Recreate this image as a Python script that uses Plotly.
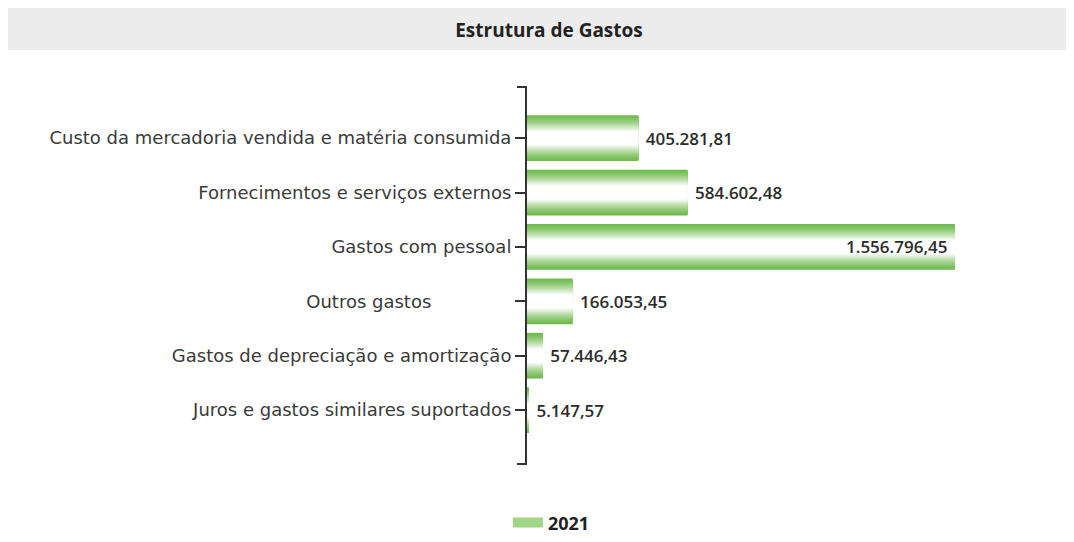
import plotly.graph_objects as go

categorias = [
    "Custo da mercadoria vendida e matéria consumida",
    "Fornecimentos e serviços externos",
    "Gastos com pessoal",
    "Outros gastos" + "\u00a0" * 14,
    "Gastos de depreciação e amortização",
    "Juros e gastos similares suportados",
]
valores_2021 = [405281.81, 584602.48, 1556796.45, 166053.45, 57446.43, 5147.57]
rotulos = ["405.281,81", "584.602,48", "1.556.796,45", "166.053,45", "57.446,43", "5.147,57"]
posicao_rotulo = ["outside", "outside", "inside", "outside", "outside", "outside"]

# vertical gradient on bars: overlay of ever narrower, lighter bars
verde = (112, 186, 78)
n_camadas = 16
largura_max, largura_min = 0.84, 0.26

fig = go.Figure()
for i in range(n_camadas):
    t = i / (n_camadas - 1)
    w = largura_max - (largura_max - largura_min) * t
    c = tuple(round(v + (255 - v) * t ** 1.3) for v in verde)
    ultima = i == n_camadas - 1
    fig.add_trace(go.Bar(
        x=valores_2021,
        y=categorias,
        orientation="h",
        width=w,
        marker=dict(color="rgb(%d,%d,%d)" % c, line=dict(width=0)),
        name="2021",
        showlegend=False,
        text=[("\u00a0" + r if p == "outside" else r + "\u00a0") for r, p in zip(rotulos, posicao_rotulo)] if ultima else None,
        textposition=posicao_rotulo if ultima else None,
        insidetextanchor="end",
        textfont=dict(family="Open Sans", size=17, color="#2b2b2b", weight=600),
        cliponaxis=False,
        hoverinfo="skip",
    ))

# legend entry drawn as a wide green swatch
fig.add_trace(go.Scatter(
    x=[None], y=[None], mode="lines", name="2021",
    line=dict(color="rgb(160,214,134)", width=10),
    showlegend=True, hoverinfo="skip",
))

fig.update_layout(
    barmode="overlay",
    width=1074,
    height=542,
    paper_bgcolor="white",
    plot_bgcolor="white",
    margin=dict(l=519, r=118, t=79, b=86),
    title=dict(
        text="<b>Estrutura de Gastos</b>",
        x=541 / 1074, xanchor="center",
        y=1 - 22 / 542, yanchor="middle",
        font=dict(family="Open Sans", size=19, color="#222222"),
    ),
    legend=dict(
        orientation="h",
        xref="container", yref="container",
        x=0.506, xanchor="center",
        y=0.05, yanchor="middle",
        font=dict(family="Open Sans", size=18, color="#222222", weight="bold"),
    ),
    uniformtext=dict(minsize=12, mode="show"),
    shapes=[
        dict(type="rect", xref="paper", yref="paper", x0=-1.25, x1=1.32,
             y0=1 + 37 / 377, y1=1 + 79 / 377, fillcolor="#ececec",
             line=dict(width=0), layer="below"),
        dict(type="line", xref="paper", yref="paper", x0=-0.023, x1=0, y0=1, y1=1,
             line=dict(color="#333333", width=2)),
        dict(type="line", xref="paper", yref="paper", x0=-0.023, x1=0, y0=0, y1=0,
             line=dict(color="#333333", width=2)),
    ],
)

fig.update_xaxes(range=[0, 1590000], visible=False)
fig.update_yaxes(
    autorange=False,
    range=[5.99, -0.94],
    showline=True,
    linecolor="#333333",
    linewidth=2,
    ticks="outside",
    ticklen=10,
    tickwidth=1.5,
    tickcolor="#333333",
    showgrid=False,
    tickfont=dict(family="DejaVu Sans", size=18, color="#3a3a3a"),
)

fig.write_html("out.html")
